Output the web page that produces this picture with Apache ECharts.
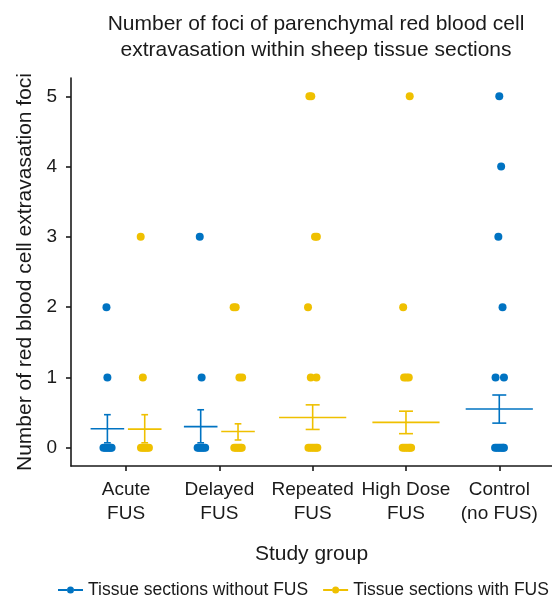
<!DOCTYPE html>
<html>
<head>
<meta charset="utf-8">
<script src="https://cdn.jsdelivr.net/npm/echarts@6/dist/echarts.min.js"></script>
<style>
  html, body { margin: 0; padding: 0; background: #fff; }
  #main { width: 552px; height: 605px; }
</style>
</head>
<body>
<div id="main"></div>
<script>
const groups = ['Acute\nFUS', 'Delayed\nFUS', 'Repeated\nFUS', 'High Dose\nFUS', 'Control\n(no FUS)']
const yTicks = [0, 1, 2, 3, 4, 5]
const nameWithout = 'Tissue sections without FUS'
const nameWith = 'Tissue sections with FUS'

// points: [group index, foci count, jitter]
const pointsWithout = [
  [0, 0, -0.042], [0, 0, -0.025], [0, 0, -0.01], [0, 0, 0.005], [0, 0, 0.02], [0, 0, 0.035], [0, 0, 0.045],
  [0, 1, 0.0], [0, 2, -0.01],
  [1, 0, -0.033], [1, 0, -0.018], [1, 0, 0.0], [1, 0, 0.015], [1, 0, 0.03], [1, 0, 0.048],
  [1, 1, 0.01], [1, 3, -0.01],
  [4, 0, -0.045], [4, 0, -0.028], [4, 0, -0.01], [4, 0, 0.008], [4, 0, 0.025], [4, 0, 0.04], [4, 0, 0.05],
  [4, 1, -0.04], [4, 1, 0.05], [4, 2, 0.035], [4, 3, -0.01], [4, 4, 0.02], [4, 5, 0.0]
]
const pointsWith = [
  [0, 0, -0.04], [0, 0, -0.022], [0, 0, -0.005], [0, 0, 0.01], [0, 0, 0.028], [0, 0, 0.045],
  [0, 1, -0.02], [0, 3, -0.043],
  [1, 0, -0.04], [1, 0, -0.022], [1, 0, -0.005], [1, 0, 0.012], [1, 0, 0.028], [1, 0, 0.04],
  [1, 1, 0.015], [1, 1, 0.044], [1, 2, -0.047], [1, 2, -0.025],
  [2, 0, -0.045], [2, 0, -0.025], [2, 0, -0.005], [2, 0, 0.015], [2, 0, 0.035], [2, 0, 0.05],
  [2, 1, -0.02], [2, 1, 0.04], [2, 2, -0.05], [2, 3, 0.025], [2, 3, 0.045], [2, 5, -0.035], [2, 5, -0.015],
  [3, 0, -0.035], [3, 0, -0.015], [3, 0, 0.005], [3, 0, 0.025], [3, 0, 0.042], [3, 0, 0.055],
  [3, 1, -0.02], [3, 1, 0.005], [3, 1, 0.03], [3, 2, -0.03], [3, 5, 0.04]
]

// mean and error bar per group (null = group not sampled)
const meanWithout = [0.27, 0.30, null, null, 0.55]
const lowerWithout = [0.07, 0.07, null, null, 0.35]
const upperWithout = [0.47, 0.54, null, null, 0.75]
const meanWith = [0.265, 0.23, 0.43, 0.36, null]
const lowerWith = [0.07, 0.11, 0.26, 0.20, null]
const upperWith = [0.47, 0.34, 0.61, 0.52, null]

const blue = '#0073C2'
const yellow = '#EFC000'
const ink = '#1a1a1a'
const font = 'Liberation Sans, Arial, sans-serif'

// dodge: groups holding both kinds of sections share the slot
const both = groups.map((g, i) => meanWithout[i] != null && meanWith[i] != null)
const center = (g, side) => g + 1 + (both[g] ? side * 0.2 : 0)

const pointData = (pts, side) => pts.map(p => [center(p[0], side) + p[2], p[1]])

const statData = (mean, lo, hi, side) => {
  const out = []
  mean.forEach((m, g) => {
    if (m == null) return
    const hw = both[g] ? 0.18 : 0.36
    const cap = both[g] ? 0.036 : 0.075
    out.push([center(g, side), m, lo[g], hi[g], hw, cap])
  })
  return out
}

function renderStat (params, api) {
  const x = api.value(0), m = api.value(1), lo = api.value(2), hi = api.value(3)
  const hw = api.value(4), cap = api.value(5)
  const style = { stroke: api.visual('color'), lineWidth: 1.6 }
  const seg = (a, b) => {
    const p1 = api.coord(a), p2 = api.coord(b)
    return { type: 'line', shape: { x1: p1[0], y1: p1[1], x2: p2[0], y2: p2[1] }, style }
  }
  return {
    type: 'group',
    children: [
      seg([x - hw, m], [x + hw, m]),
      seg([x, lo], [x, hi]),
      seg([x - cap, hi], [x + cap, hi]),
      seg([x - cap, lo], [x + cap, lo])
    ]
  }
}

// line with a dot, like the plot's legend key
const legendIcon = 'path://M0,2.5H9V4.5H0Z M16,2.5H25V4.5H16Z M9,3.5A3.5,3.5 0 1 0 16,3.5A3.5,3.5 0 1 0 9,3.5Z'

const options = {
  animation: false,
  textStyle: { fontFamily: font },
  title: {
    text: 'Number of foci of parenchymal red blood cell\nextravasation within sheep tissue sections',
    left: 311,
    top: 6,
    textAlign: 'center',
    textStyle: { fontSize: 21, fontWeight: 'normal', color: ink, lineHeight: 26, fontFamily: font }
  },
  legend: {
    left: 58,
    top: 581,
    padding: 0,
    itemWidth: 25,
    itemHeight: 7,
    itemGap: 15,
    textStyle: { fontSize: 17.5, color: ink, fontFamily: font },
    data: [
      { name: nameWithout, icon: legendIcon },
      { name: nameWith, icon: legendIcon }
    ]
  },
  grid: { left: 71, right: 0, top: 78, bottom: 139, containLabel: false },
  xAxis: {
    type: 'value',
    min: 0.41,
    max: 5.565,
    splitLine: { show: false },
    axisLine: { onZero: false, lineStyle: { color: ink, width: 1.6 } },
    axisTick: { customValues: [1, 2, 3, 4, 5], length: 5, lineStyle: { color: ink, width: 1.6 } },
    axisLabel: {
      customValues: [1, 2, 3, 4, 5],
      formatter: v => groups[Math.round(v) - 1],
      fontSize: 19,
      lineHeight: 24,
      color: ink,
      margin: 12
    },
    name: 'Study group',
    nameLocation: 'middle',
    nameGap: 78,
    nameTextStyle: { fontSize: 21, color: ink }
  },
  yAxis: {
    type: 'value',
    min: -0.26,
    max: 5.26,
    splitLine: { show: false },
    axisLine: { show: true, onZero: false, lineStyle: { color: ink, width: 1.6 } },
    axisTick: { show: true, customValues: yTicks, length: 5, lineStyle: { color: ink, width: 1.6 } },
    axisLabel: { customValues: yTicks, fontSize: 19, color: ink, margin: 14 },
    name: 'Number of red blood cell extravasation foci',
    nameLocation: 'middle',
    nameRotate: 90,
    nameGap: 34,
    nameTextStyle: { fontSize: 21, color: ink }
  },
  series: [
    {
      name: nameWithout,
      type: 'scatter',
      symbolSize: 8,
      itemStyle: { color: blue, opacity: 1 },
      data: pointData(pointsWithout, -1)
    },
    {
      name: nameWith,
      type: 'scatter',
      symbolSize: 8,
      itemStyle: { color: yellow, opacity: 1 },
      data: pointData(pointsWith, 1)
    },
    {
      name: nameWithout,
      type: 'custom',
      renderItem: renderStat,
      itemStyle: { color: blue },
      encode: { x: 0, y: 1 },
      data: statData(meanWithout, lowerWithout, upperWithout, -1),
      z: 3
    },
    {
      name: nameWith,
      type: 'custom',
      renderItem: renderStat,
      itemStyle: { color: yellow },
      encode: { x: 0, y: 1 },
      data: statData(meanWith, lowerWith, upperWith, 1),
      z: 3
    }
  ]
}

const chart = echarts.init(document.getElementById('main'), null, { renderer: 'canvas' })
chart.setOption(options)
</script>
</body>
</html>
